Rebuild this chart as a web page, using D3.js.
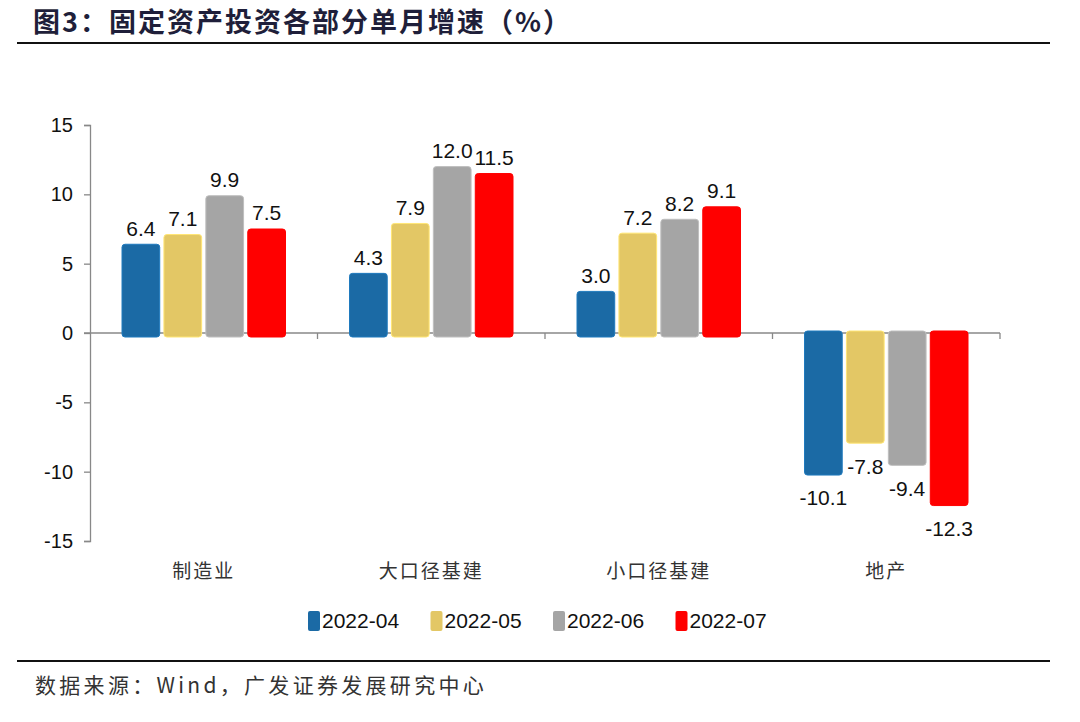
<!DOCTYPE html>
<html lang="zh">
<head>
<meta charset="UTF-8">
<title>固定资产投资各部分单月增速</title>
<script src="https://d3js.org/d3.v7.min.js"></script>
<style>
  body { margin: 0; background: #fff; }
  svg { display: block; }
  .num { font-family: Arial, "Liberation Sans", sans-serif; }
  .cjk { font-family: "Noto Sans CJK SC", sans-serif; }
</style>
</head>
<body>
<svg id="chart"></svg>
<script>
// data
const categories = ["制造业", "大口径基建", "小口径基建", "地产"];
const seriesNames = ["2022-04", "2022-05", "2022-06", "2022-07"];
const colors = ["#1B6AA5", "#E3C765", "#A5A5A5", "#FF0000"];
const v202204 = [6.4, 4.3, 3.0, -10.1];
const v202205 = [7.1, 7.9, 7.2, -7.8];
const v202206 = [9.9, 12.0, 8.2, -9.4];
const v202207 = [7.5, 11.5, 9.1, -12.3];
const yTicks = [15, 10, 5, 0, -5, -10, -15];

const seriesValues = [v202204, v202205, v202206, v202207];

const W = 1080, H = 722;
const svg = d3.select('#chart').attr('width', W).attr('height', H);

// title
svg.append('text')
  .attr('class', 'cjk')
  .attr('x', 33).attr('y', 32)
  .attr('font-size', 27).attr('font-weight', 'bold')
  .attr('letter-spacing', 2)
  .attr('fill', '#1f1f3a')
  .text('图3：固定资产投资各部分单月增速（%）');
svg.append('line')
  .attr('x1', 17).attr('x2', 1050).attr('y1', 43).attr('y2', 43)
  .attr('stroke', '#111').attr('stroke-width', 2);

// scales
const x = d3.scaleBand().domain(categories).range([90, 1000]);
const xi = d3.scaleBand().domain(seriesNames).range([32, x.bandwidth() - 32]).paddingInner(0.1);
const y = d3.scaleLinear().domain([-15, 15]).range([541, 125]);

// y axis (plain hyphen for negatives, like the source)
const yAxis = d3.axisLeft(y).tickValues(yTicks).tickSize(6).tickFormat(d => String(d));
const gy = svg.append('g').attr('transform', 'translate(90,0)').call(yAxis);
gy.select('.domain').attr('stroke', '#888').attr('stroke-width', 1.3);
gy.selectAll('.tick line').attr('stroke', '#888').attr('stroke-width', 1.3);
gy.selectAll('.tick text')
  .attr('class', 'num').attr('font-size', 20).attr('fill', '#111').attr('x', -17);

// zero line with category boundary ticks
svg.append('line')
  .attr('x1', 84).attr('x2', x.range()[1])
  .attr('y1', y(0)).attr('y2', y(0))
  .attr('stroke', '#888').attr('stroke-width', 1.3);
svg.selectAll('.xtick')
  .data(categories)
  .enter().append('line')
  .attr('x1', d => x(d) + x.bandwidth()).attr('x2', d => x(d) + x.bandwidth())
  .attr('y1', y(0)).attr('y2', y(0) + 6)
  .attr('stroke', '#888').attr('stroke-width', 1.3);

// bars
seriesNames.forEach((s, si) => {
  const g = svg.append('g');
  const data = categories.map((c, ci) => ({ c, v: seriesValues[si][ci] }));
  g.selectAll('rect')
    .data(data)
    .enter().append('rect')
    .attr('x', d => x(d.c) + xi(s))
    .attr('width', xi.bandwidth())
    .attr('y', d => d.v >= 0 ? y(d.v) : y(0) - 2)
    .attr('height', d => Math.abs(y(d.v) - y(0)) + 4)
    .attr('rx', 3)
    .attr('fill', colors[si])
    .attr('stroke', d3.color(colors[si]).brighter(0.4))
    .attr('stroke-width', 1);
  g.selectAll('text')
    .data(data)
    .enter().append('text')
    .attr('class', 'num')
    .attr('x', d => x(d.c) + xi(s) + xi.bandwidth() / 2)
    .attr('y', d => d.v >= 0 ? y(d.v) - 16 : y(d.v) + 25)
    .attr('dy', '0.35em')
    .attr('text-anchor', 'middle')
    .attr('font-size', 21)
    .attr('fill', '#111')
    .text(d => d.v.toFixed(1));
});

// category labels
svg.selectAll('.cat')
  .data(categories)
  .enter().append('text')
  .attr('class', 'cjk')
  .attr('x', d => x(d) + x.bandwidth() / 2)
  .attr('y', 571)
  .attr('dy', '0.35em')
  .attr('text-anchor', 'middle')
  .attr('font-size', 19)
  .attr('letter-spacing', 2)
  .attr('fill', '#333')
  .text(d => d);

// legend
const legend = svg.append('g').attr('transform', 'translate(308,621)');
seriesNames.forEach((s, i) => {
  const item = legend.append('g').attr('transform', `translate(${i * 122.5},0)`);
  item.append('rect')
    .attr('x', 0).attr('y', -10).attr('width', 12).attr('height', 20)
    .attr('rx', 2).attr('fill', colors[i]);
  item.append('text')
    .attr('class', 'num')
    .attr('x', 14).attr('dy', '0.35em')
    .attr('font-size', 21).attr('fill', '#111')
    .text(s);
});

// footer
svg.append('line')
  .attr('x1', 17).attr('x2', 1050).attr('y1', 661).attr('y2', 661)
  .attr('stroke', '#111').attr('stroke-width', 2);
svg.append('text')
  .attr('class', 'cjk')
  .attr('x', 35).attr('y', 686)
  .attr('dy', '0.35em')
  .attr('font-size', 21)
  .attr('letter-spacing', 3.3)
  .attr('fill', '#333')
  .text('数据来源：Wind，广发证券发展研究中心');
</script>
</body>
</html>
